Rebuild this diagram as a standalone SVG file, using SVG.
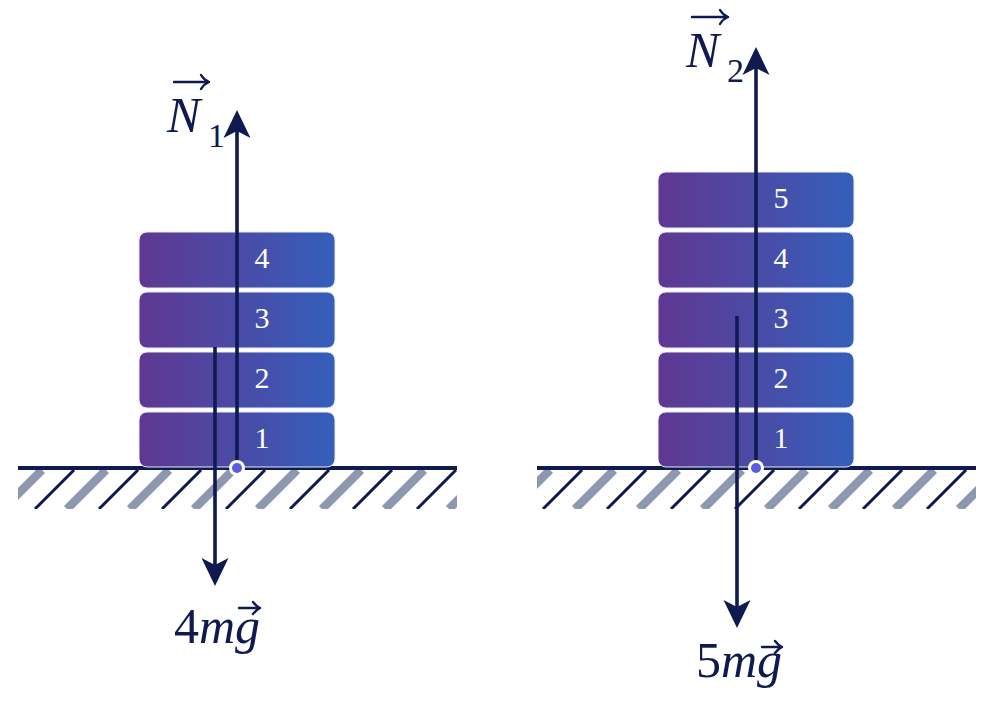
<svg xmlns="http://www.w3.org/2000/svg" width="994" height="715" viewBox="0 0 994 715">
<style>
.blk{fill:url(#g);stroke:#e8ecf8;stroke-width:1}
.num{font-size:30px;fill:#ffffff;text-anchor:middle}
.vec{stroke:#0e1a50;stroke-width:3.6;fill:none}
.head{fill:#0e1a50}
.gl{stroke:#0e1a50;stroke-width:4}
.hd{stroke:#0e1a50;stroke-width:3}
.hg{stroke:#8e97b0;stroke-width:8.5}
.lbl{font-size:50px;fill:#0e1a50}
.sub{font-size:34px;fill:#0e1a50}
.ov{stroke:#0e1a50;stroke-width:2.4;fill:none;stroke-linecap:round;stroke-linejoin:round}
</style>
<defs>
<linearGradient id="g" x1="0" y1="0" x2="1" y2="0">
<stop offset="0" stop-color="#603791"/>
<stop offset="1" stop-color="#345fbb"/>
</linearGradient>
<clipPath id="cl"><rect x="18" y="470" width="439" height="39"/></clipPath>
<clipPath id="cr"><rect x="537" y="470" width="439" height="39"/></clipPath>
</defs>

<g id="ground-left">
<g clip-path="url(#cl)">
<path class="hg" d="M3,509 l39,-39 M67,509 l39,-39 M130,509 l39,-39 M194,509 l39,-39 M258,509 l39,-39 M322,509 l39,-39 M385,509 l39,-39 M449,509 l39,-39"/>
<path class="hd" d="M-29,509 l39,-39 M35,509 l39,-39 M99,509 l39,-39 M162,509 l39,-39 M226,509 l39,-39 M290,509 l39,-39 M353,509 l39,-39 M417,509 l39,-39"/>
</g>
<line class="gl" x1="18" y1="468" x2="457" y2="468"/>
</g>

<g id="ground-right">
<g clip-path="url(#cr)">
<path class="hg" d="M511,509 l39,-39 M575,509 l39,-39 M639,509 l39,-39 M703,509 l39,-39 M767,509 l39,-39 M831,509 l39,-39 M895,509 l39,-39 M959,509 l39,-39"/>
<path class="hd" d="M543,509 l39,-39 M607,509 l39,-39 M671,509 l39,-39 M735,509 l39,-39 M799,509 l39,-39 M863,509 l39,-39 M927,509 l39,-39"/>
</g>
<line class="gl" x1="537" y1="468" x2="976" y2="468"/>
</g>

<g id="stack-left" font-family="'Times New Roman', 'Liberation Serif', serif">
<g id="L1"><rect class="blk" x="139" y="412" width="196" height="55" rx="8"/><text class="num" x="262" y="448">1</text></g>
<g id="L2"><rect class="blk" x="139" y="352" width="196" height="56" rx="8"/><text class="num" x="262" y="388">2</text></g>
<g id="L3"><rect class="blk" x="139" y="292" width="196" height="56" rx="8"/><text class="num" x="262" y="328">3</text></g>
<g id="L4"><rect class="blk" x="139" y="232" width="196" height="56" rx="8"/><text class="num" x="262" y="268">4</text></g>
</g>

<g id="stack-right" font-family="'Times New Roman', 'Liberation Serif', serif">
<g id="R1"><rect class="blk" x="658" y="412" width="196" height="55" rx="8"/><text class="num" x="781" y="448">1</text></g>
<g id="R2"><rect class="blk" x="658" y="352" width="196" height="56" rx="8"/><text class="num" x="781" y="388">2</text></g>
<g id="R3"><rect class="blk" x="658" y="292" width="196" height="56" rx="8"/><text class="num" x="781" y="328">3</text></g>
<g id="R4"><rect class="blk" x="658" y="232" width="196" height="56" rx="8"/><text class="num" x="781" y="268">4</text></g>
<g id="R5"><rect class="blk" x="658" y="172" width="196" height="56" rx="8"/><text class="num" x="781" y="208">5</text></g>
</g>

<g id="connectors">
<line class="vec" x1="237" y1="468" x2="237" y2="128"/>
<path class="head" d="M237,110 L250.5,138 L237,131 L223.5,138 Z"/>
<line class="vec" x1="215" y1="347" x2="215" y2="568"/>
<path class="head" d="M215,586 L228.5,558 L215,565 L201.5,558 Z"/>
<line class="vec" x1="756" y1="468" x2="756" y2="65"/>
<path class="head" d="M756,47 L769.5,75 L756,68 L742.5,75 Z"/>
<line class="vec" x1="737" y1="316" x2="737" y2="610"/>
<path class="head" d="M737,628 L750.5,600 L737,607 L723.5,600 Z"/>
</g>

<g id="points">
<circle cx="237" cy="468" r="8" fill="#ffffff"/><circle cx="237" cy="468" r="5" fill="#5b5ce0"/>
<circle cx="756" cy="468" r="8" fill="#ffffff"/><circle cx="756" cy="468" r="5" fill="#5b5ce0"/>
</g>

<g id="label-N1" font-family="'Times New Roman', 'Liberation Serif', serif">
<text class="lbl" font-style="italic" x="167" y="132" font-size="52">N</text>
<text class="sub" x="208" y="147">1</text>
<path class="ov" d="M174,82 H209 M201,75 Q204,80 209,82 Q204,84 201,89"/>
</g>
<g id="label-N2" font-family="'Times New Roman', 'Liberation Serif', serif">
<text class="lbl" font-style="italic" x="686" y="67" font-size="52">N</text>
<text class="sub" x="727" y="82">2</text>
<path class="ov" d="M692,17 H728 M720,10 Q723,15 728,17 Q723,19 720,24"/>
</g>
<g id="label-4mg" font-family="'Times New Roman', 'Liberation Serif', serif">
<text class="lbl" x="174" y="643">4<tspan font-style="italic">mg</tspan></text>
<path class="ov" d="M239,608 H260 M253,602 Q256,606 260,608 Q256,610 253,614"/>
</g>
<g id="label-5mg" font-family="'Times New Roman', 'Liberation Serif', serif">
<text class="lbl" x="696" y="677">5<tspan font-style="italic">mg</tspan></text>
<path class="ov" d="M762,647 H782 M775,641 Q778,645 782,647 Q778,649 775,653"/>
</g>
</svg>
